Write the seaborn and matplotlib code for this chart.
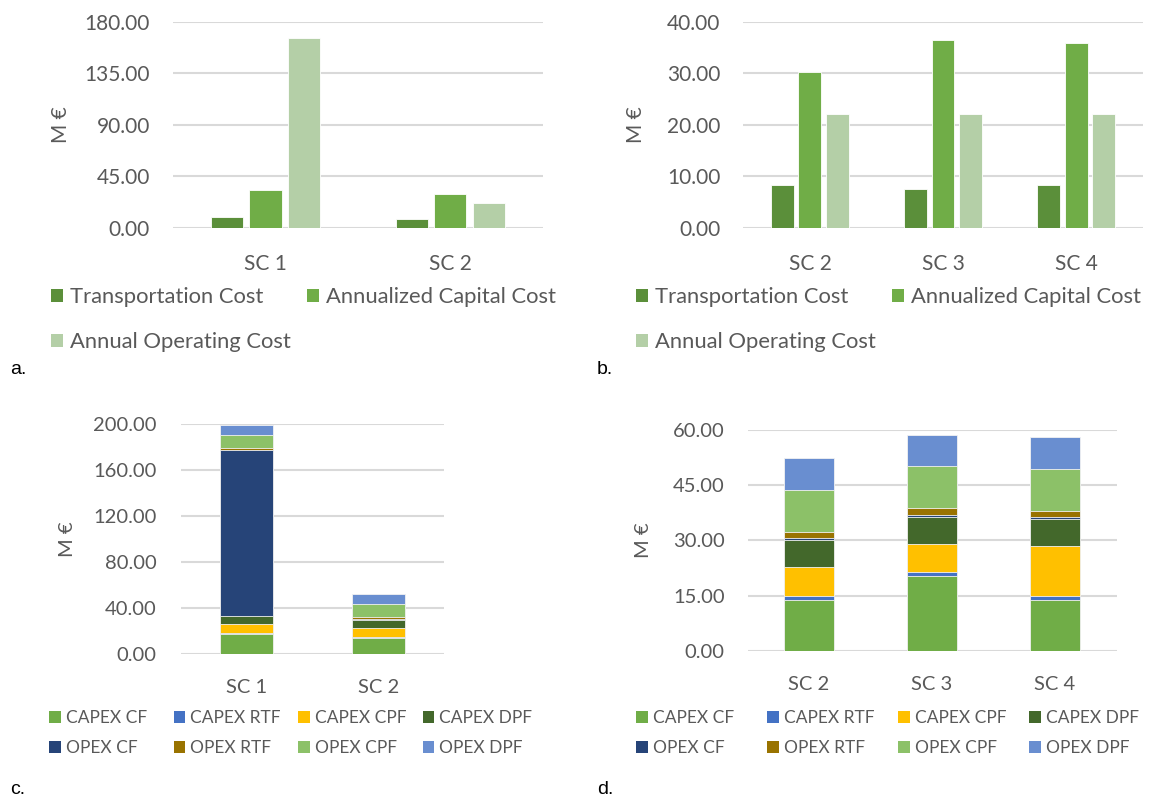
import numpy as np
import pandas as pd
import seaborn as sns
import matplotlib
matplotlib.use("Agg")
import matplotlib.pyplot as plt
from matplotlib.patches import Patch
from matplotlib.ticker import FormatStrFormatter, MultipleLocator

# --- data ---
cost_names = ["Transportation Cost", "Annualized Capital Cost", "Annual Operating Cost"]
cost_colors = ["#5B8F3A", "#70AD47", "#B4CFA7"]

scen_a = ["SC 1", "SC 2"]
transport_a = [9.6, 8.2]
capital_a = [33.6, 30.1]
operating_a = [165.8, 22.2]

scen_b = ["SC 2", "SC 3", "SC 4"]
transport_b = [8.4, 7.6, 8.3]
capital_b = [30.2, 36.4, 35.9]
operating_b = [22.2, 22.2, 22.2]

comp_names = ["CAPEX CF", "CAPEX RTF", "CAPEX CPF", "CAPEX DPF",
              "OPEX CF", "OPEX RTF", "OPEX CPF", "OPEX DPF"]
comp_colors = ["#70AD47", "#4472C4", "#FFC000", "#43682B",
               "#264478", "#997300", "#8CC168", "#698ED0"]

scen_c = ["SC 1", "SC 2"]
comp_c = {
    "CAPEX CF": [17.7, 13.9], "CAPEX RTF": [1.1, 1.1], "CAPEX CPF": [7.8, 7.9],
    "CAPEX DPF": [7.0, 7.2], "OPEX CF": [144.1, 0.6], "OPEX RTF": [1.7, 1.7],
    "OPEX CPF": [11.3, 11.4], "OPEX DPF": [8.7, 8.6],
}

scen_d = ["SC 2", "SC 3", "SC 4"]
comp_d = {
    "CAPEX CF": [13.9, 20.4, 13.8], "CAPEX RTF": [1.1, 1.0, 1.2],
    "CAPEX CPF": [7.9, 7.7, 13.6], "CAPEX DPF": [7.2, 7.3, 7.2],
    "OPEX CF": [0.6, 0.5, 0.6], "OPEX RTF": [1.7, 1.8, 1.7],
    "OPEX CPF": [11.4, 11.4, 11.4], "OPEX DPF": [8.6, 8.6, 8.5],
}

sns.set_theme(style="white")
plt.rcParams["font.family"] = ["Lato", "DejaVu Sans"]
GREY = "#595959"
GRID = "#D9D9D9"
W, H = 1150, 801

fig = plt.figure(figsize=(11.5, 8.01), dpi=100)


def style_axis(ax, ymax, step, ypad, xpad, fs):
    ax.set_ylim(0, ymax)
    ax.yaxis.set_major_locator(MultipleLocator(step))
    ax.yaxis.set_major_formatter(FormatStrFormatter("%.2f"))
    ax.grid(axis="y", color=GRID, linewidth=1.5)
    ax.set_axisbelow(True)
    for s in ax.spines.values():
        s.set_visible(False)
    ax.tick_params(axis="y", length=0, pad=ypad, labelsize=fs, labelcolor=GREY)
    ax.tick_params(axis="x", length=0, pad=xpad, labelsize=fs, labelcolor=GREY)
    ax.set_xlabel("")


def grouped(rect, scen, tr, ca, op, ymax, step, width, ylab_x):
    ax = fig.add_axes(rect)
    df = pd.DataFrame({
        "scenario": np.repeat(scen, 3),
        "cost": cost_names * len(scen),
        "value": np.ravel(np.column_stack([tr, ca, op])),
    })
    sns.barplot(data=df, x="scenario", y="value", hue="cost", hue_order=cost_names,
                palette=cost_colors, saturation=1, width=width, gap=0.16,
                legend=False, ax=ax, edgecolor="white", linewidth=0.6)
    style_axis(ax, ymax, step, ypad=16.5, xpad=18.5, fs=15)
    ax.set_ylabel("M €", fontsize=15, color=GREY)
    ax.yaxis.set_label_coords(ylab_x, 0.5)
    return ax


def stacked(rect, scen, comps, ymax, step, ylab_x, ypad, fs):
    ax = fig.add_axes(rect)
    vals = np.array([comps[n] for n in comp_names])
    cum = np.cumsum(vals, axis=0)
    for i in range(len(comp_names) - 1, -1, -1):
        sns.barplot(x=scen, y=cum[i], color=comp_colors[i], saturation=1,
                    width=0.4, ax=ax, edgecolor="#F2F2F2", linewidth=0.6)
    style_axis(ax, ymax, step, ypad=ypad, xpad=18, fs=fs)
    ax.set_ylabel("M €", fontsize=fs, color=GREY)
    ax.yaxis.set_label_coords(ylab_x, 0.5)
    return ax


def entry(name, color, x, y, fs, box_px, gap_px):
    # one legend entry, placed by its marker's left edge (x) and row centre (y) in pixels
    hl = box_px / 1.389 / fs
    fig.legend([Patch(facecolor=color, edgecolor="none")], [name],
               loc="center left", bbox_to_anchor=(x / W, 1 - y / H),
               frameon=False, fontsize=fs, labelcolor=GREY,
               handlelength=hl, handleheight=hl, handletextpad=gap_px / 1.389 / fs,
               borderpad=0, borderaxespad=0)


grouped([0.1504, 0.7154, 0.3217, 0.2572], scen_a, transport_a, capital_a,
        operating_a, 180, 45, 0.62, -0.276)
grouped([0.6465, 0.7154, 0.3470, 0.2572], scen_b, transport_b, capital_b,
        operating_b, 40, 10, 0.617, -0.244)

for x0 in (51, 636):
    col_x = [x0, x0 + 256, x0]
    row_y = [297, 297, 342]
    for n, c, x, y in zip(cost_names, cost_colors, col_x, row_y):
        entry(n, c, x, y, 15.8, 12, 7)

stacked([0.1574, 0.1831, 0.2287, 0.2871], scen_c, comp_c, 200, 40, -0.399, 17.5, 14.5)
stacked([0.650, 0.1873, 0.3209, 0.2759], scen_d, comp_d, 60, 15, -0.259, 16.5, 14.5)

for x0, step in ((49, 124.5), (636, 131)):
    for k, (n, c) in enumerate(zip(comp_names, comp_colors)):
        entry(n, c, x0 + step * (k % 4), 718 + 30 * (k // 4), 12.5, 12, 5)

for lab, x, y in [("a.", 10, 370), ("b.", 597, 370), ("c.", 10, 790), ("d.", 597, 790)]:
    fig.text(x / W, 1 - y / H, lab, fontsize=14, color="black",
             family=["Liberation Sans", "DejaVu Sans"], va="center", ha="left")

fig.savefig("out.png", dpi=100)
